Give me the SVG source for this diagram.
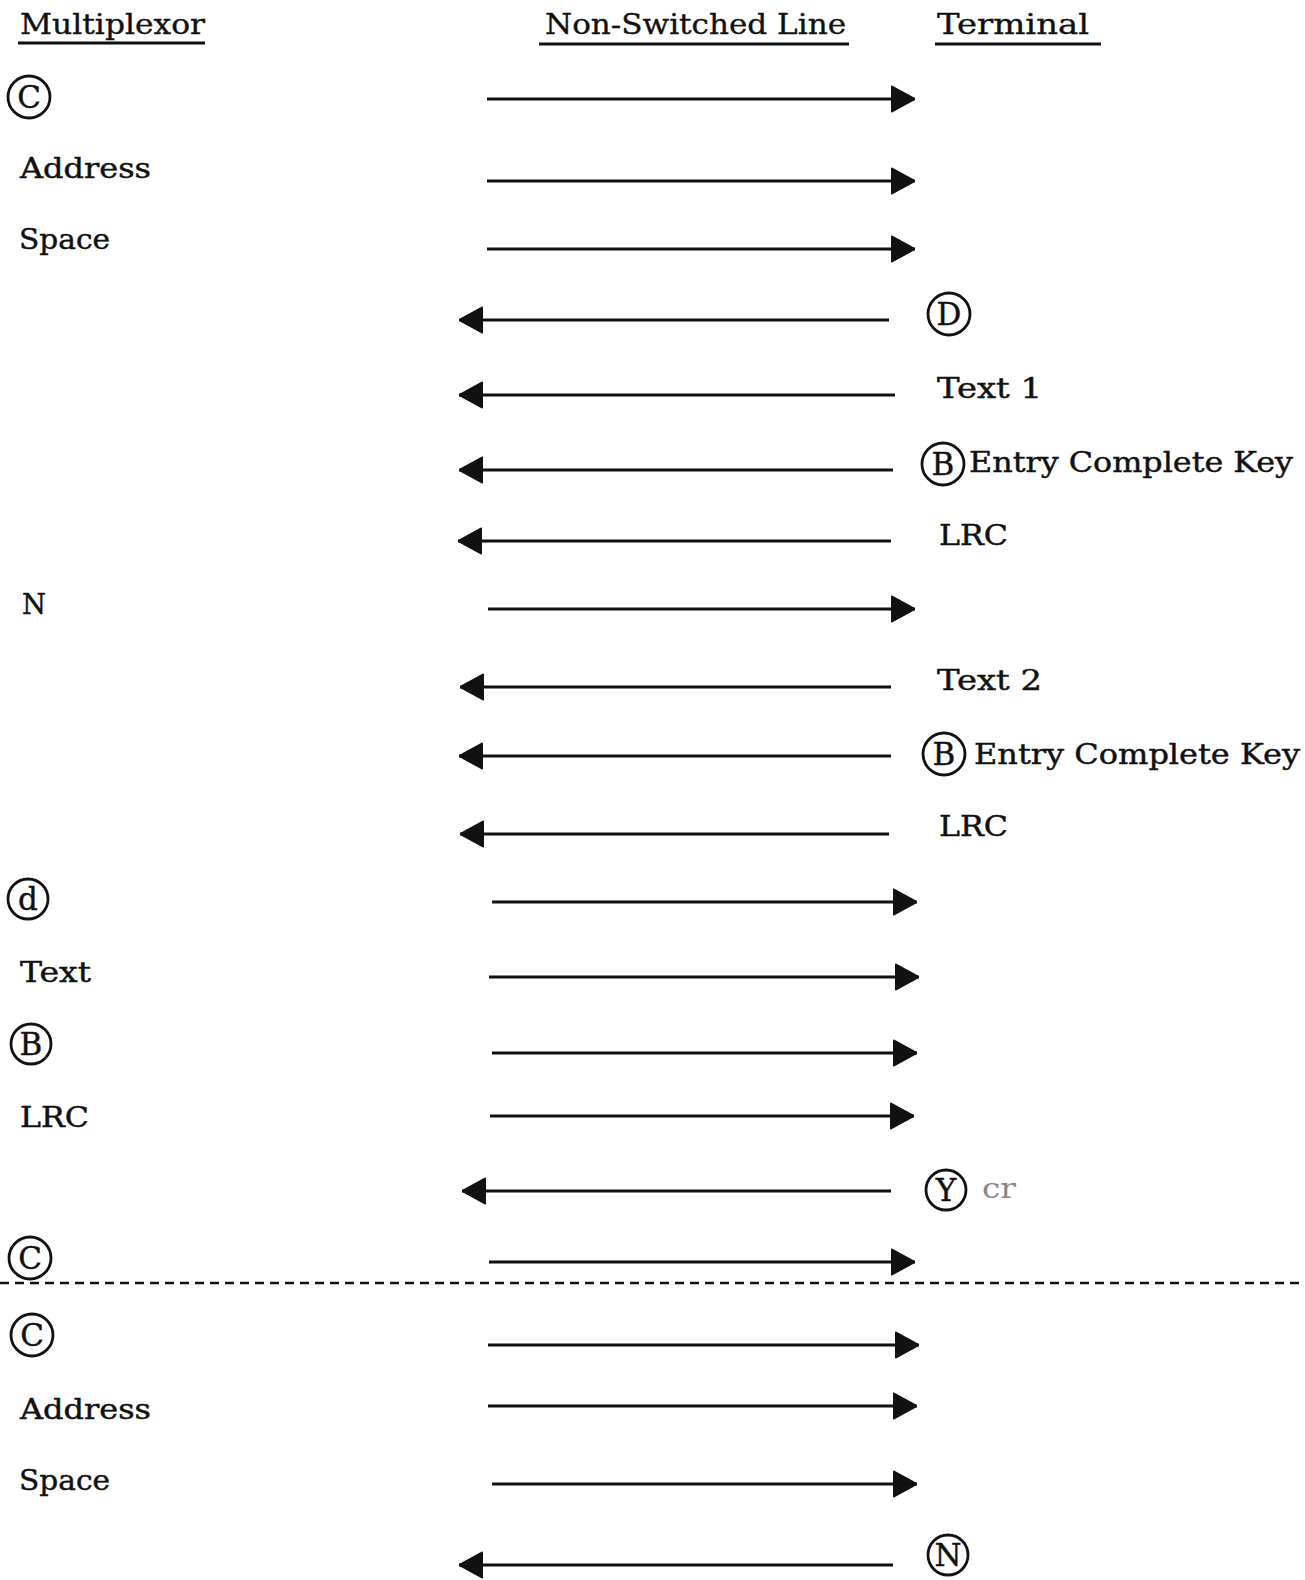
<svg xmlns="http://www.w3.org/2000/svg" width="1305" height="1580" viewBox="0 0 1305 1580">
  <style>
    .t { font-family: "DejaVu Serif", "Liberation Serif", serif; font-size: 28px; fill: #111; stroke: #111; stroke-width: 0.45; }
    .h { font-family: "DejaVu Serif", "Liberation Serif", serif; font-size: 28px; fill: #111; stroke: #111; stroke-width: 0.35; }
    .ul { stroke: #111; stroke-width: 2.8; }
    .ring { fill: none; stroke: #111; stroke-width: 2.8; }
    .cl { font-family: "DejaVu Serif", "Liberation Serif", serif; font-size: 31px; fill: #111; stroke: #111; stroke-width: 0.4; text-anchor: middle; }
    .msg { stroke: #111; stroke-width: 3; fill: none; }
    .r { marker-end: url(#head); }
    .sep { stroke: #111; stroke-width: 2.6; stroke-dasharray: 9 6; }
    .faint { fill: #888; stroke: none; }
  </style>
  <defs>
    <marker id="head" markerUnits="userSpaceOnUse" markerWidth="28" markerHeight="30" refX="25" refY="15" orient="auto">
      <path d="M1,2.5 Q1,1 2.5,1.7 L24,13.5 Q25.5,15 24,16.5 L2.5,28.3 Q1,29 1,27.5 Z" fill="#111"/>
    </marker>
  </defs>

  <rect width="1305" height="1580" fill="#fff"/>

  <!-- column headings -->
  <g id="col-multiplexor">
    <text class="h" x="20" y="34" textLength="185" lengthAdjust="spacingAndGlyphs">Multiplexor</text>
    <line class="ul" x1="18" y1="43" x2="205" y2="43"/>
  </g>
  <g id="col-line">
    <text class="h" x="545" y="34" textLength="301" lengthAdjust="spacingAndGlyphs">Non-Switched Line</text>
    <line class="ul" x1="539" y1="44" x2="849" y2="44"/>
  </g>
  <g id="col-terminal">
    <text class="h" x="937" y="34" textLength="152" lengthAdjust="spacingAndGlyphs">Terminal</text>
    <line class="ul" x1="935" y1="44" x2="1101" y2="44"/>
  </g>

  <!-- multiplexor side labels -->
  <g id="m-c1"><circle class="ring" cx="29" cy="97" r="21"/><text class="cl" x="29" y="108">C</text></g>
  <g id="m-address1"><text class="t" x="20" y="178" textLength="131" lengthAdjust="spacingAndGlyphs">Address</text></g>
  <g id="m-space1"><text class="t" x="19" y="249" textLength="91" lengthAdjust="spacingAndGlyphs">Space</text></g>
  <g id="m-n"><text class="t" x="22" y="614" textLength="24" lengthAdjust="spacingAndGlyphs">N</text></g>
  <g id="m-d"><circle class="ring" cx="28" cy="899" r="20"/><text class="cl" x="28" y="910">d</text></g>
  <g id="m-text"><text class="t" x="20" y="982" textLength="71" lengthAdjust="spacingAndGlyphs">Text</text></g>
  <g id="m-b"><circle class="ring" cx="31" cy="1044" r="20"/><text class="cl" x="31" y="1055">B</text></g>
  <g id="m-lrc"><text class="t" x="20" y="1127" textLength="69" lengthAdjust="spacingAndGlyphs">LRC</text></g>
  <g id="m-c2"><circle class="ring" cx="30" cy="1258" r="21"/><text class="cl" x="30" y="1269">C</text></g>
  <g id="m-c3"><circle class="ring" cx="32" cy="1335" r="21"/><text class="cl" x="32" y="1346">C</text></g>
  <g id="m-address2"><text class="t" x="20" y="1419" textLength="131" lengthAdjust="spacingAndGlyphs">Address</text></g>
  <g id="m-space2"><text class="t" x="19" y="1490" textLength="91" lengthAdjust="spacingAndGlyphs">Space</text></g>

  <!-- terminal side labels -->
  <g id="t-d"><circle class="ring" cx="949" cy="314" r="21"/><text class="cl" x="949" y="325">D</text></g>
  <g id="t-text1"><text class="t" x="937" y="398" textLength="105" lengthAdjust="spacingAndGlyphs">Text  1</text></g>
  <g id="t-eck1">
    <circle class="ring" cx="943" cy="464" r="21"/><text class="cl" x="943" y="475">B</text>
    <text class="t" x="969" y="472" textLength="324" lengthAdjust="spacingAndGlyphs">Entry Complete Key</text>
  </g>
  <g id="t-lrc1"><text class="t" x="939" y="545" textLength="69" lengthAdjust="spacingAndGlyphs">LRC</text></g>
  <g id="t-text2"><text class="t" x="937" y="690" textLength="105" lengthAdjust="spacingAndGlyphs">Text  2</text></g>
  <g id="t-eck2">
    <circle class="ring" cx="944" cy="754" r="21"/><text class="cl" x="944" y="765">B</text>
    <text class="t" x="974" y="764" textLength="326" lengthAdjust="spacingAndGlyphs">Entry Complete Key</text>
  </g>
  <g id="t-lrc2"><text class="t" x="939" y="836" textLength="69" lengthAdjust="spacingAndGlyphs">LRC</text></g>
  <g id="t-y">
    <circle class="ring" cx="946" cy="1190" r="20"/><text class="cl" x="946" y="1201">Y</text>
    <text class="t faint" x="982" y="1198" textLength="34" lengthAdjust="spacingAndGlyphs">cr</text>
  </g>
  <g id="t-n"><circle class="ring" cx="948" cy="1555" r="20"/><text class="cl" x="948" y="1566">N</text></g>

  <!-- separator between the two exchanges -->
  <g id="separator"><line class="sep" x1="0" y1="1283" x2="1305" y2="1283"/></g>

  <!-- message arrows on the line -->
  <g id="connectors">
    <line class="msg r" x1="487" y1="99" x2="915" y2="99"/>
    <line class="msg r" x1="487" y1="181" x2="915" y2="181"/>
    <line class="msg r" x1="487" y1="249" x2="915" y2="249"/>
    <line class="msg r" x1="889" y1="320" x2="459" y2="320"/>
    <line class="msg r" x1="895" y1="395" x2="459" y2="395"/>
    <line class="msg r" x1="893" y1="470" x2="459" y2="470"/>
    <line class="msg r" x1="891" y1="541" x2="458" y2="541"/>
    <line class="msg r" x1="488" y1="609" x2="915" y2="609"/>
    <line class="msg r" x1="891" y1="687" x2="460" y2="687"/>
    <line class="msg r" x1="891" y1="756" x2="459" y2="756"/>
    <line class="msg r" x1="889" y1="834" x2="460" y2="834"/>
    <line class="msg r" x1="492" y1="902" x2="917" y2="902"/>
    <line class="msg r" x1="489" y1="977" x2="919" y2="977"/>
    <line class="msg r" x1="492" y1="1053" x2="917" y2="1053"/>
    <line class="msg r" x1="490" y1="1116" x2="914" y2="1116"/>
    <line class="msg r" x1="891" y1="1191" x2="462" y2="1191"/>
    <line class="msg r" x1="489" y1="1262" x2="915" y2="1262"/>
    <line class="msg r" x1="488" y1="1345" x2="919" y2="1345"/>
    <line class="msg r" x1="488" y1="1406" x2="917" y2="1406"/>
    <line class="msg r" x1="492" y1="1484" x2="917" y2="1484"/>
    <line class="msg r" x1="893" y1="1565" x2="459" y2="1565"/>
  </g>
</svg>
